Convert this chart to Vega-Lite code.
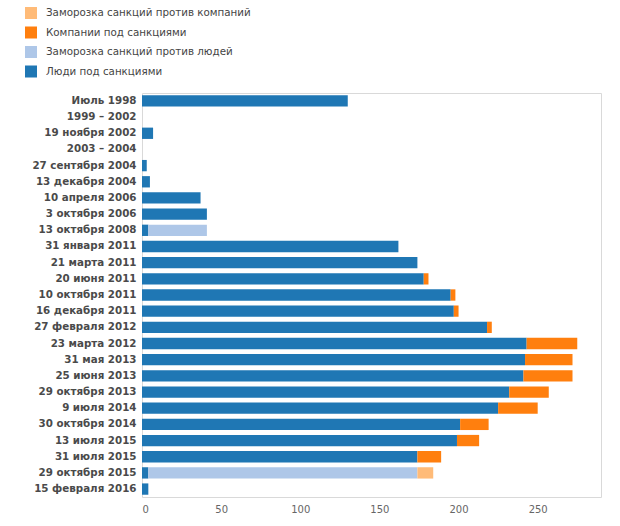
{
  "$schema": "https://vega.github.io/schema/vega-lite/v6.json",
  "width": 459,
  "height": 404,
  "autosize": "none",
  "padding": {"left": 142, "top": 93, "right": 19, "bottom": 29},
  "background": "white",
  "data": {
    "values": [
      {"d": "Июль 1998", "s": "Люди под санкциями", "v": 130},
      {"d": "1999 – 2002", "s": "Люди под санкциями", "v": 0},
      {"d": "19 ноября 2002", "s": "Люди под санкциями", "v": 7},
      {"d": "2003 – 2004", "s": "Люди под санкциями", "v": 0},
      {"d": "27 сентября 2004", "s": "Люди под санкциями", "v": 3},
      {"d": "13 декабря 2004", "s": "Люди под санкциями", "v": 5},
      {"d": "10 апреля 2006", "s": "Люди под санкциями", "v": 37},
      {"d": "3 октября 2006", "s": "Люди под санкциями", "v": 41},
      {"d": "13 октября 2008", "s": "Люди под санкциями", "v": 4},
      {"d": "13 октября 2008", "s": "Заморозка санкций против людей", "v": 37},
      {"d": "31 января 2011", "s": "Люди под санкциями", "v": 162},
      {"d": "21 марта 2011", "s": "Люди под санкциями", "v": 174},
      {"d": "20 июня 2011", "s": "Люди под санкциями", "v": 178},
      {"d": "20 июня 2011", "s": "Компании под санкциями", "v": 3},
      {"d": "10 октября 2011", "s": "Люди под санкциями", "v": 195},
      {"d": "10 октября 2011", "s": "Компании под санкциями", "v": 3},
      {"d": "16 декабря 2011", "s": "Люди под санкциями", "v": 197},
      {"d": "16 декабря 2011", "s": "Компании под санкциями", "v": 3},
      {"d": "27 февраля 2012", "s": "Люди под санкциями", "v": 218},
      {"d": "27 февраля 2012", "s": "Компании под санкциями", "v": 3},
      {"d": "23 марта 2012", "s": "Люди под санкциями", "v": 243},
      {"d": "23 марта 2012", "s": "Компании под санкциями", "v": 32},
      {"d": "31 мая 2013", "s": "Люди под санкциями", "v": 242},
      {"d": "31 мая 2013", "s": "Компании под санкциями", "v": 30},
      {"d": "25 июня 2013", "s": "Люди под санкциями", "v": 241},
      {"d": "25 июня 2013", "s": "Компании под санкциями", "v": 31},
      {"d": "29 октября 2013", "s": "Люди под санкциями", "v": 232},
      {"d": "29 октября 2013", "s": "Компании под санкциями", "v": 25},
      {"d": "9 июля 2014", "s": "Люди под санкциями", "v": 225},
      {"d": "9 июля 2014", "s": "Компании под санкциями", "v": 25},
      {"d": "30 октября 2014", "s": "Люди под санкциями", "v": 201},
      {"d": "30 октября 2014", "s": "Компании под санкциями", "v": 18},
      {"d": "13 июля 2015", "s": "Люди под санкциями", "v": 199},
      {"d": "13 июля 2015", "s": "Компании под санкциями", "v": 14},
      {"d": "31 июля 2015", "s": "Люди под санкциями", "v": 174},
      {"d": "31 июля 2015", "s": "Компании под санкциями", "v": 15},
      {"d": "29 октября 2015", "s": "Люди под санкциями", "v": 4},
      {"d": "29 октября 2015", "s": "Заморозка санкций против людей", "v": 170},
      {"d": "29 октября 2015", "s": "Заморозка санкций против компаний", "v": 10},
      {"d": "15 февраля 2016", "s": "Люди под санкциями", "v": 4}
    ]
  },
  "transform": [
    {"calculate": "indexof(['Люди под санкциями','Заморозка санкций против людей','Компании под санкциями','Заморозка санкций против компаний'], datum.s)", "as": "o"}
  ],
  "mark": {"type": "bar"},
  "encoding": {
    "y": {
      "field": "d",
      "type": "nominal",
      "sort": null,
      "title": null,
      "scale": {"paddingInner": 0.3, "paddingOuter": 0.14},
      "axis": {
        "ticks": false,
        "domain": false,
        "labelFont": "DejaVu Sans",
        "labelFontWeight": "bold",
        "labelFontSize": 10.3,
        "labelColor": "#4a4a4a",
        "labelPadding": 6,
        "labelLimit": 200
      }
    },
    "x": {
      "field": "v",
      "type": "quantitative",
      "stack": "zero",
      "title": null,
      "scale": {"domain": [0, 290], "nice": false},
      "axis": {
        "values": [0, 50, 100, 150, 200, 250],
        "grid": false,
        "ticks": false,
        "domain": false,
        "labelFont": "DejaVu Sans",
        "labelFontSize": 10,
        "labelColor": "#666666",
        "labelPadding": 7
      }
    },
    "color": {
      "field": "s",
      "type": "nominal",
      "scale": {
        "domain": ["Заморозка санкций против компаний", "Компании под санкциями", "Заморозка санкций против людей", "Люди под санкциями"],
        "range": ["#ffbb78", "#ff7f0e", "#aec7e8", "#1f77b4"]
      },
      "legend": {
        "title": null,
        "orient": "none",
        "legendX": -117,
        "legendY": -86,
        "direction": "vertical",
        "symbolType": "square",
        "symbolSize": 144,
        "symbolStrokeWidth": 0,
        "symbolOpacity": 1,
        "labelFont": "DejaVu Sans",
        "labelFontSize": 10.3,
        "labelColor": "#444444",
        "labelOffset": 9,
        "labelLimit": 400,
        "rowPadding": 7.5
      }
    },
    "order": {"field": "o", "type": "quantitative"}
  },
  "config": {
    "view": {"stroke": "#d9d9d9"}
  }
}
